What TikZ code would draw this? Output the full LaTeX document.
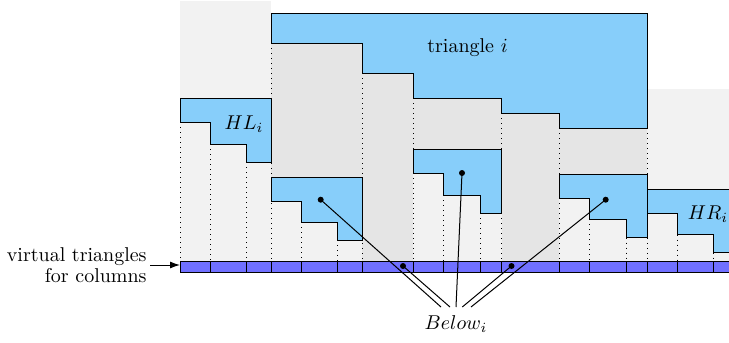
\documentclass[tikz,border=0pt]{standalone}
\usetikzlibrary{arrows.meta}
\definecolor{triblue}{RGB}{135,206,250}
\definecolor{barblue}{RGB}{112,112,255}
\definecolor{lgray}{RGB}{242,242,242}
\definecolor{dgray}{RGB}{229,229,229}
\begin{document}
\begin{tikzpicture}[x=0.5pt,y=-0.5pt,
  tri/.style={fill=triblue,draw=black,line width=0.5pt},
  col/.style={dotted,line width=0.5pt},
  cell/.style={fill=barblue,draw=black,line width=0.5pt},
  dotm/.style={circle,fill=black,inner sep=0pt,minimum size=3pt},
  conn/.style={line width=0.5pt},
  lbl/.style={inner sep=0pt}]
\useasboundingbox (0,0) rectangle (729,343);
\clip (0,0) rectangle (729,343);
% backgrounds
\fill[lgray] (180,1) rectangle (271,261);
\fill[lgray] (647,89) rectangle (745,261);
\fill[dgray] (271,43.3) -- (362,43.3) -- (362,73.3) -- (413,73.3) -- (413,98) -- (501.5,98) -- (501.5,113) -- (559,113) -- (559,128.3) -- (647,128.3) -- (647,261) -- (271,261) -- cycle;
\fill[lgray] (271,177.3) rectangle (362,261);
\fill[lgray] (413,149.7) rectangle (501.5,261);
\fill[lgray] (559,174) rectangle (647,261);
% dotted column lines
\foreach \x/\y in {180/122.3, 210/144, 246.5/162, 271/43.3, 301/222.3, 337.5/240.3, 362/73.3, 413/98, 443/195.3, 480/213.3, 501.5/113, 559/128.3, 589/219.3, 626/237.7, 647/128.3, 677/234.7, 713/252.7}
  \draw[col] (\x,\y) -- (\x,261);
% triangles
\draw[tri] (271,13.3) -- (647,13.3) -- (647,128.3) -- (559,128.3) -- (559,113) -- (501.5,113) -- (501.5,98) -- (413,98) -- (413,73.3) -- (362,73.3) -- (362,43.3) -- (271,43.3) -- cycle;
\draw[tri] (180,98.3) -- (271,98.3) -- (271,162) -- (246.5,162) -- (246.5,144) -- (210,144) -- (210,122.3) -- (180,122.3) -- cycle;
\draw[tri] (271,177.3) -- (362,177.3) -- (362,240.3) -- (337.5,240.3) -- (337.5,222.3) -- (301,222.3) -- (301,201.3) -- (271,201.3) -- cycle;
\draw[tri] (413,149.7) -- (501.5,149.7) -- (501.5,213.3) -- (480,213.3) -- (480,195.3) -- (443,195.3) -- (443,173.7) -- (413,173.7) -- cycle;
\draw[tri] (559,174) -- (647,174) -- (647,237.7) -- (626,237.7) -- (626,219.3) -- (589,219.3) -- (589,198.3) -- (559,198.3) -- cycle;
\draw[tri] (647,189) -- (745,189) -- (745,252.7) -- (713,252.7) -- (713,234.7) -- (677,234.7) -- (677,213.3) -- (647,213.3) -- cycle;
% labels
\node[lbl] (ti) at (467.5,48) {triangle $i$};
\node[lbl] (hl) at (244,124) {$HL_i$};
\node[lbl] (hr) at (708,214) {$HR_i$};
% bar of virtual triangles
\foreach \a/\b in {180/210, 210/246.5, 246.5/271, 271/301, 301/337.5, 337.5/362, 362/413, 413/443, 443/480, 480/501.5, 501.5/559, 559/589, 589/626, 626/647, 647/677, 677/713, 713/745}
  \draw[cell] (\a,261) rectangle (\b,272);
\coordinate (barstart) at (180,265);
\node[anchor=east, align=right, inner sep=1.5pt, font=\fontsize{10}{10.5}\selectfont] (vt) at (150,265) {virtual triangles\\for columns};
\draw[-{Latex[length=5pt,width=3.5pt]}, line width=0.5pt] (vt.east) -- (barstart);
% Below_i
\node[lbl] (below) at (456,324) {$Below_i$};
\coordinate (e1) at (441,307);
\coordinate (e2) at (450,307);
\coordinate (e3) at (456,307);
\coordinate (e4) at (462.3,307);
\coordinate (e5) at (471,307);
\coordinate (d1) at (320.7,199.7);
\coordinate (d2) at (403,266);
\coordinate (d3) at (462,173);
\coordinate (d4) at (511.5,266);
\coordinate (d5) at (605.7,199.7);
\draw[conn] (d1) -- (e1);
\draw[conn] (d2) -- (e2);
\draw[conn] (d3) -- (e3);
\draw[conn] (d4) -- (e4);
\draw[conn] (d5) -- (e5);
\foreach \d in {d1,d2,d3,d4,d5}
  \node[dotm] at (\d) {};
\end{tikzpicture}
\end{document}
